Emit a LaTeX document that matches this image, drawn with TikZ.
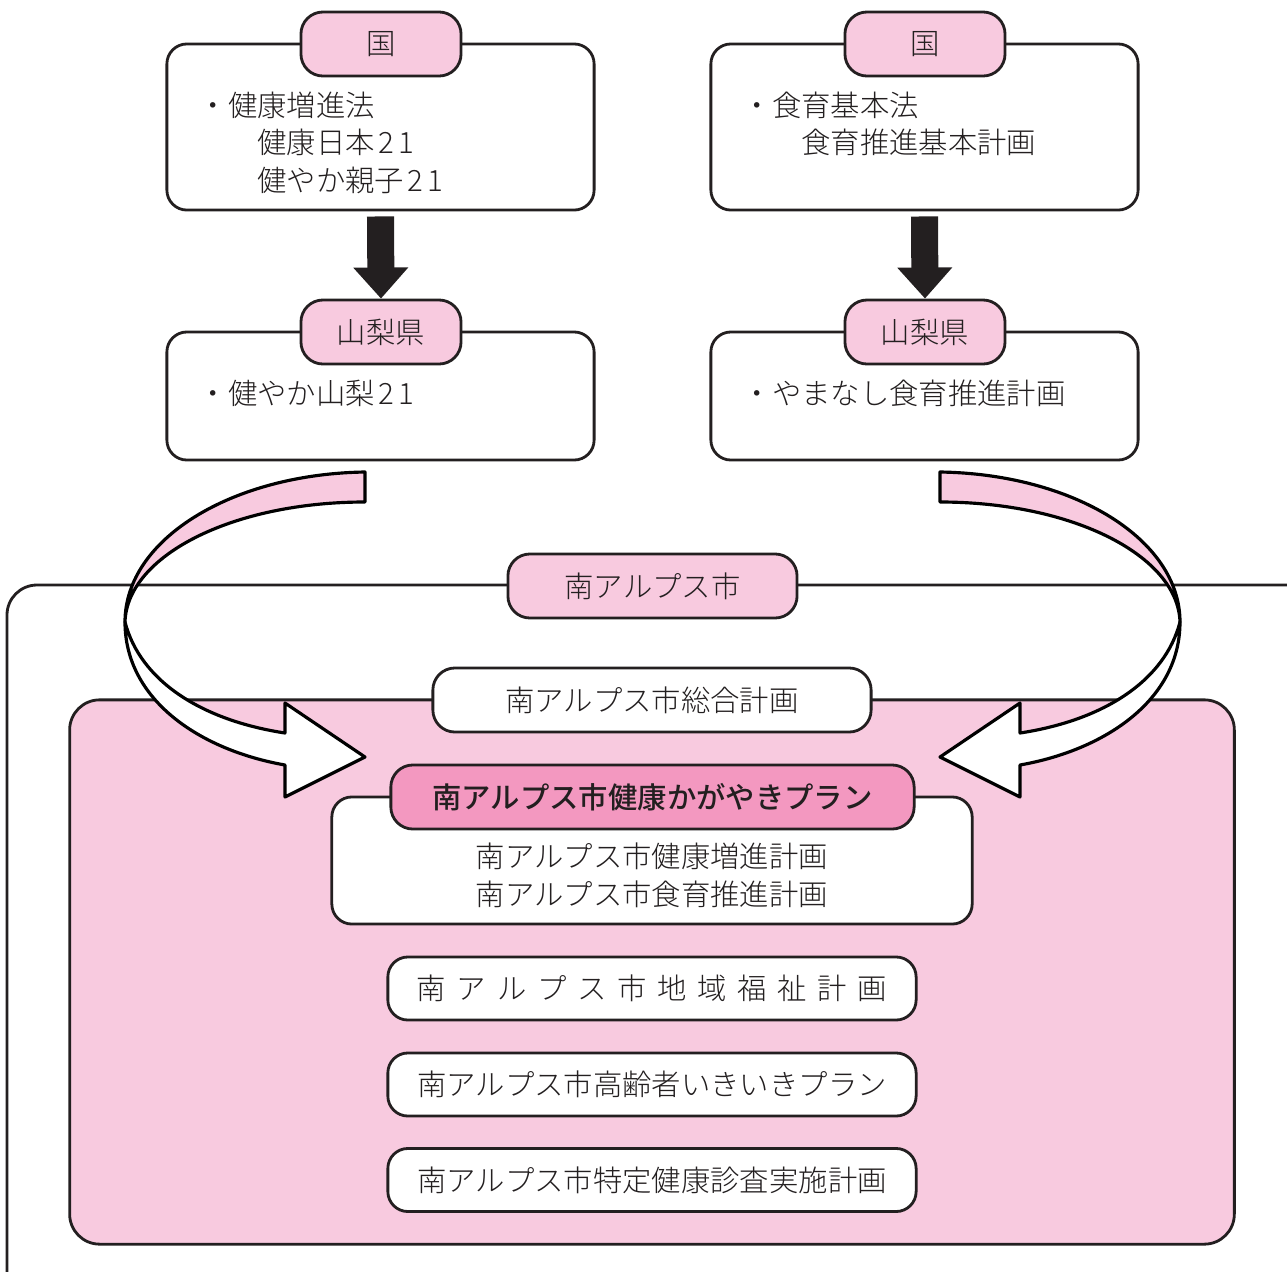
\documentclass[tikz,border=0pt]{standalone}
\usepackage{fontspec}
\setmainfont{Noto Sans CJK JP}[UprightFont=* Light, BoldFont=* Medium]
\usetikzlibrary{arrows.meta}

\definecolor{pinkl}{RGB}{248,202,223}
\definecolor{pinkd}{RGB}{243,152,192}
\definecolor{linec}{RGB}{35,31,32}

\newcommand{\jpfont}{\fontsize{8.35}{10.7}\selectfont}
\newcommand{\nij}{\kern0.12em 2\kern0.15em 1}
% twisted ribbon arrow, drawn for the left side
\newcommand{\ribbonarrow}{%
  \filldraw[ribbon, fill=pinkl] (365,472) .. controls (232,474) and (125,539) .. (125,622)
    .. controls (127,556) and (232,502) .. (365,502) -- cycle;
  \filldraw[ribbon, fill=white] (125,622) .. controls (125,700) and (200,750) .. (285,765)
    -- (285,797) -- (365,757) -- (285,703) -- (285,733)
    .. controls (200,720) and (140,680) .. (125,622) -- cycle;}

\begin{document}
\begin{tikzpicture}[x=0.01cm, y=-0.01cm,
  every node/.style={font=\jpfont, text=linec},
  panel/.style={draw=linec, line width=0.8pt, rounded corners=0.2cm, fill=white, inner sep=0},
  tab/.style={draw=linec, line width=0.8pt, rounded corners=0.22cm, fill=pinkl, minimum height=0.64cm, inner sep=0},
  plan/.style={draw=linec, line width=0.8pt, rounded corners=0.2cm, fill=white, minimum width=5.28cm, minimum height=0.63cm, inner sep=0},
  txt/.style={inner sep=0, align=left, anchor=west},
  ribbon/.style={draw=black, line width=0.9pt, line join=round},
  down/.style={draw=linec, line width=0.27cm, -{Triangle[width=0.53cm,length=0.31cm]}}]
\clip (0,0) rectangle (1287,1272);

% national level
\node[panel, minimum width=4.27cm, minimum height=1.66cm] (kokuL) at (380.5,127) {};
\node[tab, minimum width=1.6cm] (kokuLtab) at (381,44) {国};
\node[txt] (kokuLtxt) at (198,142.5) {・健康増進法\\　　健康日本\nij\\　　健やか親子\nij};
\node[panel, minimum width=4.27cm, minimum height=1.66cm] (kokuR) at (924.5,127) {};
\node[tab, minimum width=1.6cm] (kokuRtab) at (925,44) {国};
\node[txt] (kokuRtxt) at (742,124) {・食育基本法\\　　食育推進基本計画};

% prefecture level
\node[panel, minimum width=4.27cm, minimum height=1.28cm] (kenL) at (380.5,396) {};
\node[tab, minimum width=1.6cm] (kenLtab) at (381,332) {山梨県};
\node[txt] (kenLtxt) at (198,393) {・健やか山梨\nij};
\node[panel, minimum width=4.27cm, minimum height=1.28cm] (kenR) at (924.5,396) {};
\node[tab, minimum width=1.6cm] (kenRtab) at (925,332) {山梨県};
\node[txt] (kenRtxt) at (742,393) {・やまなし食育推進計画};

\draw[down] ([yshift=-0.05cm]kokuL.south) -- (kenLtab.north);
\draw[down] ([yshift=-0.05cm]kokuR.south) -- (kenRtab.north);

% city level
\draw[draw=linec, line width=0.8pt, rounded corners=0.3cm] (7,585) rectangle (1330,1320);
\node[tab, minimum width=2.89cm] (shi) at (652.5,586) {南アルプス市};
\node[draw=linec, line width=0.8pt, fill=pinkl, rounded corners=0.3cm, minimum width=11.64cm, minimum height=5.44cm] (area) at (652,972) {};
\node[tab, fill=white, minimum width=4.38cm] (sogo) at (652,700) {南アルプス市総合計画};

\ribbonarrow
\begin{scope}[shift={(1305,0)}, xscale=-1]
\ribbonarrow
\end{scope}

\node[panel, minimum width=6.4cm, minimum height=1.27cm] (kenko) at (652,860.5) {};
\node[tab, fill=pinkd, minimum width=5.23cm, font=\jpfont\bfseries] (kagayaki) at (652.5,797) {南アルプス市健康かがやきプラン};
\node[inner sep=0, align=center] (kenkotxt) at (652,875.5) {南アルプス市健康増進計画\\南アルプス市食育推進計画};

\node[plan] (fukushi) at (652,988.5) {\makebox[4.7cm][s]{南\hfil ア\hfil ル\hfil プ\hfil ス\hfil 市\hfil 地\hfil 域\hfil 福\hfil 祉\hfil 計\hfil 画}};
\node[plan] (korei) at (652,1084.5) {南アルプス市高齢者いきいきプラン};
\node[plan] (kenshin) at (652,1180) {南アルプス市特定健康診査実施計画};
\end{tikzpicture}
\end{document}
